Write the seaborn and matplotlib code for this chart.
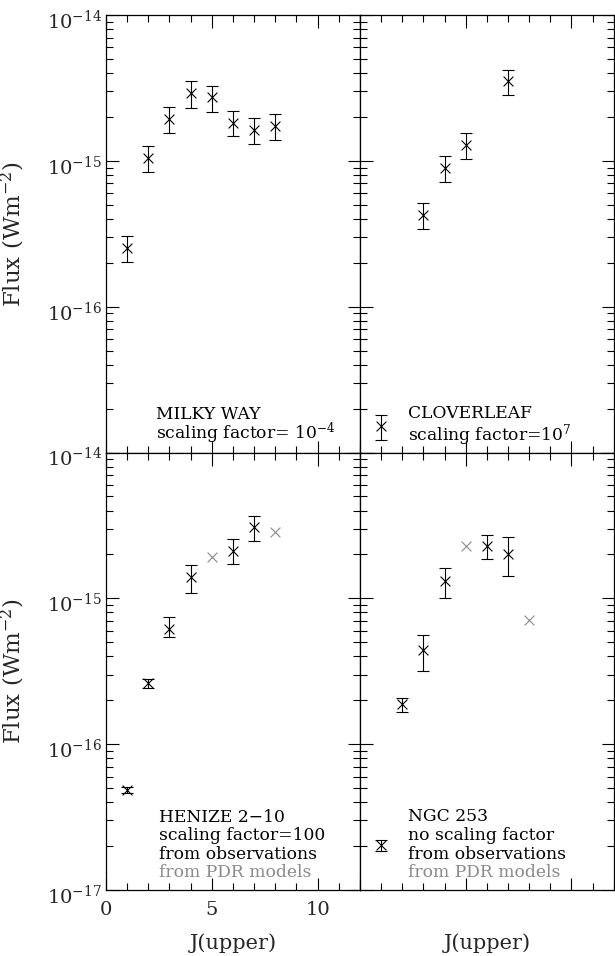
import numpy as np
import pandas as pd
import matplotlib
matplotlib.use("Agg")
import matplotlib.pyplot as plt
import matplotlib.ticker as mticker
import matplotlib.transforms as mtrans
import seaborn as sns

# ---- data: CO line fluxes per J(upper) ----
mw_j = [1, 2, 3, 4, 5, 6, 7, 8]
mw_flux = [2.52e-16, 1.05e-15, 1.93e-15, 2.91e-15, 2.72e-15, 1.83e-15, 1.63e-15, 1.74e-15]
mw_hi = [3.03e-16, 1.27e-15, 2.33e-15, 3.52e-15, 3.25e-15, 2.21e-15, 1.96e-15, 2.09e-15]
mw_lo = [2.02e-16, 8.4e-16, 1.54e-15, 2.32e-15, 2.16e-15, 1.47e-15, 1.30e-15, 1.39e-15]

cl_j = [1, 3, 4, 5, 7]
cl_flux = [1.51e-17, 4.27e-16, 9.0e-16, 1.29e-15, 3.53e-15]
cl_hi = [1.81e-17, 5.1e-16, 1.08e-15, 1.54e-15, 4.22e-15]
cl_lo = [1.21e-17, 3.39e-16, 7.2e-16, 1.03e-15, 2.82e-15]

he_j = [1, 2, 3, 4, 6, 7]
he_flux = [4.84e-17, 2.61e-16, 6.2e-16, 1.40e-15, 2.12e-15, 3.08e-15]
he_hi = [5.05e-17, 2.79e-16, 7.43e-16, 1.69e-15, 2.57e-15, 3.68e-15]
he_lo = [4.65e-17, 2.44e-16, 5.47e-16, 1.08e-15, 1.71e-15, 2.49e-15]
he_mod_j = [5, 8]
he_mod_flux = [1.93e-15, 2.84e-15]

ngc_j = [1, 2, 3, 4, 6, 7]
ngc_flux = [2.04e-17, 1.88e-16, 4.43e-16, 1.31e-15, 2.28e-15, 2.02e-15]
ngc_hi = [2.22e-17, 2.07e-16, 5.64e-16, 1.62e-15, 2.72e-15, 2.63e-15]
ngc_lo = [1.84e-17, 1.67e-16, 3.16e-16, 1.0e-15, 1.87e-15, 1.42e-15]
ngc_mod_j = [5, 8]
ngc_mod_flux = [2.28e-15, 7.14e-16]

y_decades = [1e-17, 1e-16, 1e-15, 1e-14]

GREY = "#8a8a8a"

sns.set_theme(style="ticks")
plt.rcParams["font.family"] = ["DejaVu Serif"]
plt.rcParams["mathtext.fontset"] = "dejavuserif"


def draw_panel(ax, j, flux, lo, hi, mod_j=None, mod_flux=None):
    df = pd.DataFrame({"J": j, "flux": flux, "lo": lo, "hi": hi})
    yerr = np.vstack([df["flux"] - df["lo"], df["hi"] - df["flux"]])
    ax.errorbar(df["J"], df["flux"], yerr=yerr, fmt="none", ecolor="black",
                elinewidth=0.8, capsize=4, capthick=0.8)
    sns.scatterplot(data=df, x="J", y="flux", ax=ax, marker="x", color="black",
                    s=50, linewidth=0.8, legend=False)
    if mod_j is not None:
        dm = pd.DataFrame({"J": mod_j, "flux": mod_flux})
        sns.scatterplot(data=dm, x="J", y="flux", ax=ax, marker="x", color=GREY,
                        s=50, linewidth=0.8, legend=False)

    ax.set_yscale("log")
    ax.set_ylim(y_decades[0], y_decades[-1])
    ax.set_xlim(0, 12)
    ax.xaxis.set_major_locator(mticker.MultipleLocator(5))
    ax.xaxis.set_minor_locator(mticker.MultipleLocator(1))
    ax.yaxis.set_major_locator(mticker.FixedLocator(y_decades))
    ax.yaxis.set_minor_locator(mticker.LogLocator(base=10, subs=np.arange(2, 10), numticks=10))
    ax.yaxis.set_minor_formatter(mticker.NullFormatter())
    ax.tick_params(which="both", direction="in", top=True, right=True,
                   color="black", width=0.8)
    ax.tick_params(which="major", length=9, labelsize=14, pad=3)
    ax.tick_params(which="minor", length=5)
    ax.set_xlabel("")
    ax.set_ylabel("")
    for sp in ax.spines.values():
        sp.set_color("black")
        sp.set_linewidth(0.9)


def add_text(ax, x, lines):
    for y, txt, col in lines:
        ax.text(x, y, txt, transform=ax.transAxes, fontsize=12.3, color=col,
                va="center", ha="left")


fig, axes = plt.subplots(2, 2, figsize=(6.15, 9.56), dpi=100)
fig.subplots_adjust(left=0.1724, right=0.998, top=0.9843, bottom=0.069,
                    hspace=0, wspace=0)

ax_mw, ax_cl = axes[0]
ax_he, ax_ngc = axes[1]

draw_panel(ax_mw, mw_j, mw_flux, mw_lo, mw_hi)
draw_panel(ax_cl, cl_j, cl_flux, cl_lo, cl_hi)
draw_panel(ax_he, he_j, he_flux, he_lo, he_hi, he_mod_j, he_mod_flux)
draw_panel(ax_ngc, ngc_j, ngc_flux, ngc_lo, ngc_hi, ngc_mod_j, ngc_mod_flux)

# tick labels only on the outer left / bottom-left
for ax in (ax_mw, ax_cl, ax_ngc):
    ax.tick_params(labelbottom=False)
for ax in (ax_cl, ax_ngc):
    ax.tick_params(labelleft=False)
ax_mw.yaxis.set_major_formatter(mticker.FuncFormatter(
    lambda v, p: "" if v < 5e-17 else f"$10^{{{int(round(np.log10(v)))}}}$"))
ax_he.yaxis.set_major_formatter(mticker.FuncFormatter(
    lambda v, p: f"$10^{{{int(round(np.log10(v)))}}}$"))
ax_he.tick_params(axis="x", pad=8)

for ax in (ax_mw, ax_he):
    ax.set_ylabel("Flux (Wm$^{-2}$)", fontsize=16.5)
    ax.yaxis.set_label_coords(-0.31, 0.5)
for ax in (ax_he, ax_ngc):
    ax.set_xlabel("J(upper)", fontsize=15)
    ax.xaxis.set_label_coords(0.5, -0.098)

add_text(ax_mw, 0.197, [(0.087, "MILKY WAY", "black"),
                        (0.043, "scaling factor= 10$^{-4}$", "black")])
add_text(ax_cl, 0.19, [(0.090, "CLOVERLEAF", "black"),
                       (0.041, "scaling factor=10$^{7}$", "black")])
add_text(ax_he, 0.21, [(0.166, "HENIZE 2\u221210", "black"),
                       (0.124, "scaling factor=100", "black"),
                       (0.082, "from observations", "black"),
                       (0.040, "from PDR models", GREY)])
add_text(ax_ngc, 0.19, [(0.168, "NGC 253", "black"),
                        (0.124, "no scaling factor", "black"),
                        (0.082, "from observations", "black"),
                        (0.040, "from PDR models", GREY)])

# shift y tick labels down so the "10" (not the exponent) sits on the tick
shift = mtrans.ScaledTranslation(0, -3 / 72, fig.dpi_scale_trans)
for ax in (ax_mw, ax_he):
    for lab in ax.get_yticklabels():
        lab.set_transform(lab.get_transform() + shift)

fig.savefig("out.png", dpi=100)
